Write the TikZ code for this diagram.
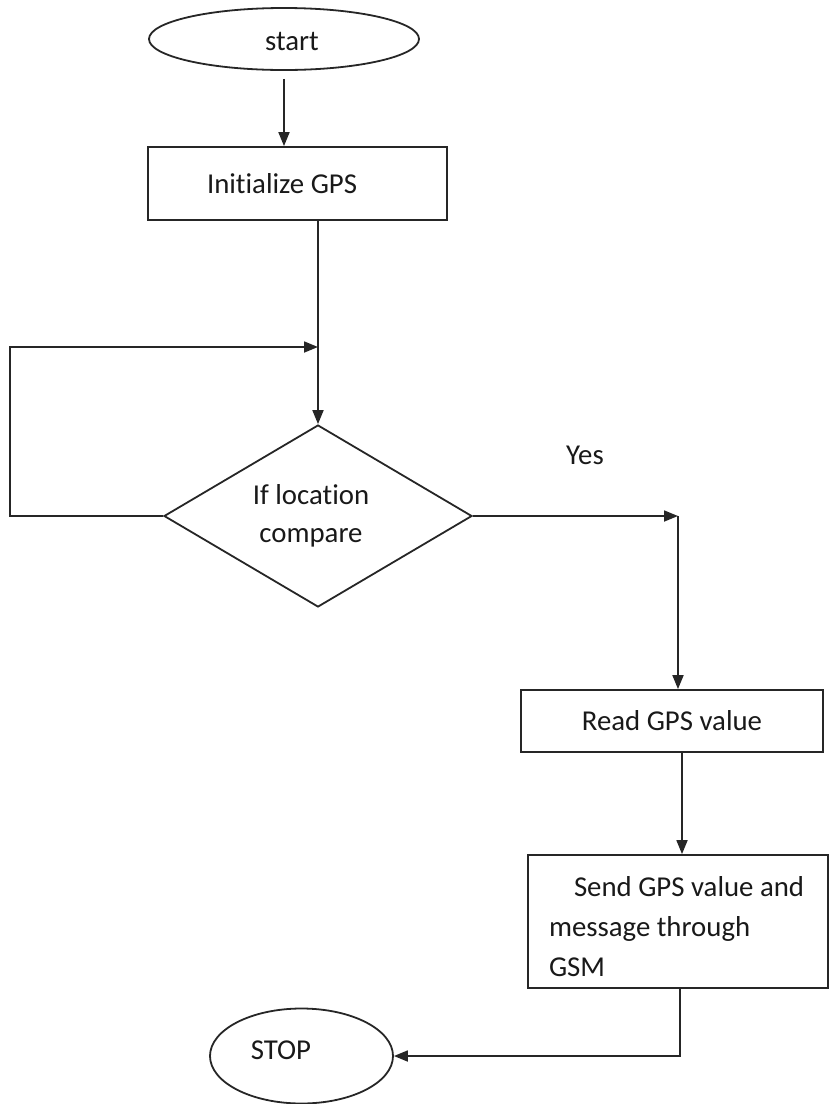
\documentclass[tikz,border=0pt]{standalone}
\usepackage{fontspec}
\setmainfont{Carlito}[Ligatures={NoCommon}]
\usetikzlibrary{shapes.geometric,arrows.meta,calc}
\begin{document}
\begin{tikzpicture}[x=1pt,y=-1pt,
  every node/.style={font=\fontsize{28.8}{40}\selectfont, text=black!90},
  line/.style={draw=black!85, line width=1.8pt},
  arrow/.style={line, -{Triangle[length=14pt,width=11pt]}},
  terminal/.style={line, ellipse, inner sep=0pt},
  procbox/.style={line, rectangle, inner sep=0pt},
  decision/.style={line, diamond, inner sep=0pt, minimum width=308pt, minimum height=182pt}]
  \useasboundingbox (0,0) rectangle (829,1104);

  % terminals, process boxes and the decision
  \node[terminal, minimum width=270pt, minimum height=62pt] (start) at (284,39) {};
  \node at (292,41) {start};

  \node[procbox, minimum width=299pt, minimum height=73pt, inner xsep=59pt,
        text width=181pt, align=flush left] (init) at (297.5,183.5) {Initialize GPS};

  \node[decision, align=center] (dec) at (318,516) {\hspace*{-14pt}If location\\[-2pt]\hspace*{-14pt}compare};

  \node at (585,455) (yeslbl) {Yes};

  \node[procbox, minimum width=302pt, minimum height=62pt] (read) at (672,721) {Read GPS value};

  \node[procbox, minimum width=300pt, minimum height=133pt, inner xsep=21pt,
        text width=258pt, align=flush left] (send) at (678,921.5)
        {\rule{0pt}{30pt}\hspace*{25pt}Send GPS value and\\message through\\GSM};

  \node[terminal, minimum width=183pt, minimum height=95pt] (stop) at (301.5,1056) {};
  \node at (281,1050) {STOP};

  % helper points for the bends
  \coordinate (loopcorner) at (10,347);
  \coordinate (join) at (dec.north |- loopcorner);
  \coordinate (yesbend) at (678,516);
  \coordinate (readout) at ([xshift=10pt]read.south);

  % connectors
  \draw[arrow, shorten <=8pt] (start.south) -- (start.south |- init.north);
  \draw[arrow] (init.south -| dec.north) -- (dec.north);
  \draw[arrow] (dec.west) -| (loopcorner) -- (join);
  \draw[arrow] (dec.east) -- (yesbend);
  \draw[arrow] (yesbend) -- (yesbend |- read.north);
  \draw[arrow] (readout) -- (readout |- send.north);
  \draw[arrow] ([xshift=2pt]send.south) |- (stop.east);
\end{tikzpicture}
\end{document}
